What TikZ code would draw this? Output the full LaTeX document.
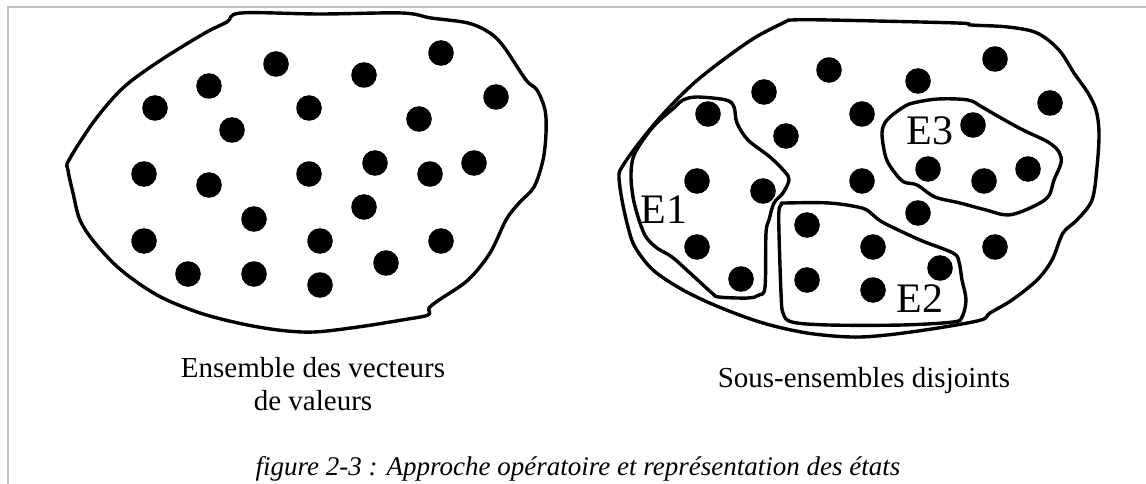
\documentclass[tikz,border=0pt]{standalone}
\usepackage{fontspec}
\setmainfont{Liberation Serif}
\usetikzlibrary{positioning}
\definecolor{framecolor}{RGB}{192,192,192}

\begin{document}
\begin{tikzpicture}[
    x=1pt, y=-1pt,
    blob/.style={line width=3.4pt, line join=round},
    dotfill/.style={fill=black},
    setlabel/.style={font=\fontsize{42}{42}\selectfont, inner sep=0pt, anchor=base},
    legend/.style={font=\fontsize{29}{33}\selectfont, inner sep=0pt, anchor=base},
    caption/.style={font=\fontsize{27}{30}\selectfont\itshape, inner sep=0pt, anchor=base}
]
\useasboundingbox (0,0) rectangle (1146,484);

% page frame
\draw[framecolor, line width=2pt] (7.5,484) -- (7.5,7) -- (1146,7);

% left set
\draw[blob] plot[smooth cycle, tension=0.55] coordinates {
    (241,13) (320,14) (402,13) (431,18) (468,23) (490,33) (504,47) (526,80)
    (537,90) (545,110) (546,133) (543,160) (534,187) (519,203) (506,220)
    (490,253) (468,280) (439,300) (429,308) (428,315) (402,320) (358,327)
    (314,332) (278,330) (238,323) (197,312) (157,295) (121,270) (95,243)
    (80,220) (73,193) (68,170) (69,160) (95,120) (124,87) (161,60) (205,33)
    (227,22)};
\foreach \x/\y in {441/53, 276/64, 364/75, 209/86, 155/108, 309/108, 496/97,
    419/119, 232/130, 144/174, 309/174, 375/163, 430/174, 474/163, 209/185,
    254/219, 364/207, 144/241, 320/241, 441/241, 386/263, 188/274, 254/274,
    320/285}
    \fill[dotfill] (\x,\y) circle [radius=12.8];

% right set
\draw[blob] plot[smooth cycle, tension=0.55] coordinates {
    (792,20) (829,20) (957,23) (971,25) (1008,27) (1037,33) (1059,50)
    (1074,73) (1088,93) (1096,110) (1099,133) (1097,167) (1092,200)
    (1077,220) (1063,233) (1052,260) (1037,280) (1012,300) (990,313)
    (981,320) (938,328) (887,335) (851,337) (807,333) (763,323) (719,307)
    (683,290) (653,270) (635,247) (628,227) (622,200) (619,177) (622,167)
    (639,143) (664,113) (694,83) (727,57) (756,37) (785,22)};

% subsets
\draw[blob] plot[smooth cycle, tension=0.55] coordinates {
    (683,100) (697,97) (726,100) (734,107) (737,123) (748,140) (770,157)
    (785,172) (789,180) (783,193) (774,203) (769,220) (766,233) (765,287)
    (759,295) (748,298) (719,297) (712,293) (690,273) (672,257) (657,248)
    (646,237) (639,220) (633,197) (631,173) (635,153) (653,127) (675,107)};
\draw[blob] plot[smooth cycle, tension=0.55] coordinates {
    (785,203) (829,203) (862,208) (873,215) (884,223) (920,240) (953,253)
    (959,262) (962,280) (966,300) (962,317) (953,322) (902,325) (829,325)
    (792,322) (783,313) (781,293) (779,233) (779,210) (782,204)};
\draw[blob] plot[smooth cycle, tension=0.55] coordinates {
    (913,103) (938,99) (968,100) (982,107) (1001,118) (1023,130) (1048,142)
    (1059,152) (1061,163) (1054,180) (1048,197) (1030,208) (1008,215)
    (986,210) (960,203) (935,197) (917,185) (904,182) (895,173) (886,158)
    (882,133) (887,120) (902,108)};

\foreach \x/\y in {995/59, 829/70, 918/81, 764/92, 1050/103, 708/114, 862/114,
    973/125, 786/136, 928/169, 1028/169, 984/181, 697/181, 862/181, 763/191,
    918/213, 807/225, 873/247, 995/247, 697/247, 940/268, 807/280, 741/279,
    873/290}
    \fill[dotfill] (\x,\y) circle [radius=12.8];

\node[setlabel] (e1) at (664,223) {E1};
\node[setlabel] (e2) at (920,312) {E2};
\node[setlabel] (e3) at (930,145) {E3};

% legends
\node[legend] (vecteurs) at (313,377) {Ensemble des vecteurs};
\node[legend] (valeurs) at (313,410) {de valeurs};
\node[legend] (disjoints) at (864,387) {Sous-ensembles disjoints};

\node[caption] (figcaption) at (578,475) {figure 2-3 : Approche opératoire et représentation des états};

\end{tikzpicture}
\end{document}
